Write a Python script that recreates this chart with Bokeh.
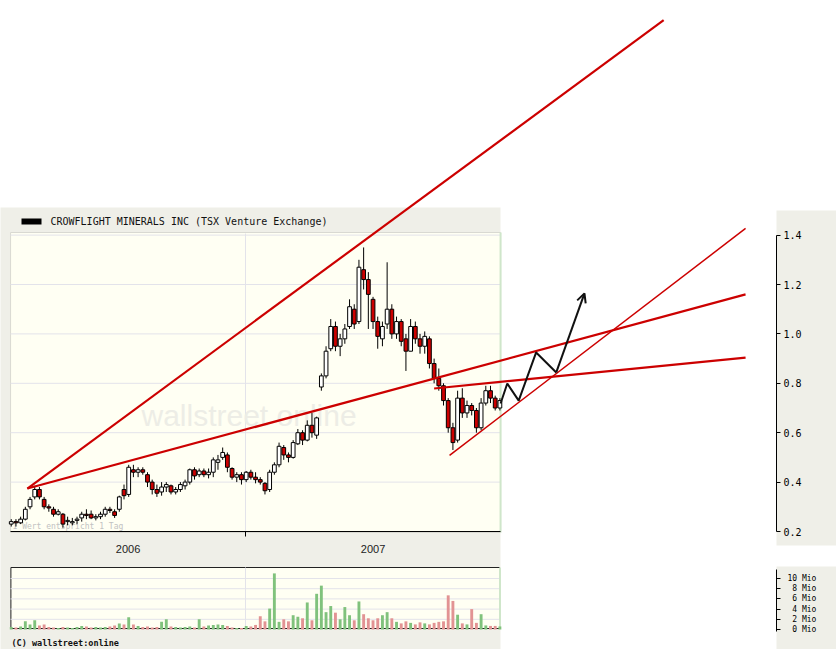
import pandas as pd
from bokeh.plotting import figure
from bokeh.models import (Range1d, LinearAxis, FixedTicker, PrintfTickFormatter,
                          ColumnDataSource, Arrow, OpenHead)
from bokeh.core.properties import value
from bokeh.embed import file_html
from bokeh.resources import INLINE

# ---------------------------------------------------------------- data
title_text = "CROWFLIGHT MINERALS INC (TSX Venture Exchange)"
note_text = "1 Wert entspricht 1 Tag"
watermark_text = "wallstreet online"
copyright_text = "(C) wallstreet:online"

first_week = "2006-01-17"          # weekly candles from here on
view_start = "2006-01-16"
view_end = "2008-01-16"
year_boundary = "2007-01-01"
year_labels = ["2006", "2007"]

open_ = [0.23, 0.24, 0.235, 0.25, 0.30, 0.34, 0.37, 0.33, 0.30, 0.29,
         0.27, 0.27, 0.24, 0.235, 0.245, 0.255, 0.27, 0.27, 0.255, 0.26,
         0.27, 0.29, 0.28, 0.29, 0.37, 0.35, 0.45, 0.44, 0.45, 0.43,
         0.40, 0.37, 0.36, 0.38, 0.385, 0.36, 0.37, 0.385, 0.40, 0.45,
         0.43, 0.445, 0.43, 0.44, 0.48, 0.50, 0.51, 0.455, 0.42, 0.43,
         0.41, 0.44, 0.42, 0.41, 0.395, 0.37, 0.44, 0.47, 0.54, 0.51,
         0.50, 0.555, 0.60, 0.57, 0.63, 0.59, 0.785, 0.83, 0.94, 1.03,
         0.95, 0.98, 1.03, 1.10, 1.05, 1.26, 1.22, 1.14, 1.05, 0.98,
         1.04, 1.10, 1.00, 1.05, 0.98, 0.93, 1.03, 0.98, 0.95, 0.98,
         0.88, 0.82, 0.79, 0.73, 0.62, 0.57, 0.74, 0.68, 0.71, 0.69,
         0.62, 0.72, 0.77, 0.74, 0.70]
high = [0.25, 0.25, 0.26, 0.30, 0.34, 0.385, 0.38, 0.34, 0.31, 0.30,
        0.29, 0.275, 0.26, 0.255, 0.26, 0.28, 0.29, 0.285, 0.27, 0.28,
        0.30, 0.30, 0.29, 0.345, 0.39, 0.47, 0.47, 0.46, 0.46, 0.44,
        0.41, 0.39, 0.40, 0.40, 0.39, 0.38, 0.40, 0.41, 0.455, 0.46,
        0.455, 0.455, 0.455, 0.50, 0.51, 0.54, 0.52, 0.46, 0.44, 0.44,
        0.445, 0.45, 0.44, 0.42, 0.40, 0.45, 0.48, 0.56, 0.55, 0.52,
        0.57, 0.615, 0.61, 0.65, 0.68, 0.665, 0.84, 0.95, 1.06, 1.05,
        1.00, 1.04, 1.14, 1.12, 1.30, 1.35, 1.25, 1.15, 1.07, 1.05,
        1.29, 1.12, 1.07, 1.06, 1.00, 1.06, 1.05, 1.00, 1.01, 0.99,
        0.90, 0.86, 0.80, 0.74, 0.64, 0.77, 0.78, 0.73, 0.72, 0.70,
        0.74, 0.79, 0.79, 0.75, 0.74]
low = [0.22, 0.22, 0.23, 0.245, 0.29, 0.33, 0.33, 0.29, 0.28, 0.26,
       0.265, 0.215, 0.225, 0.225, 0.23, 0.24, 0.25, 0.25, 0.245, 0.25,
       0.26, 0.275, 0.255, 0.28, 0.33, 0.34, 0.42, 0.42, 0.43, 0.38,
       0.35, 0.34, 0.345, 0.36, 0.35, 0.35, 0.36, 0.37, 0.39, 0.41,
       0.42, 0.42, 0.415, 0.42, 0.45, 0.49, 0.44, 0.41, 0.40, 0.39,
       0.40, 0.41, 0.395, 0.39, 0.35, 0.36, 0.43, 0.46, 0.49, 0.48,
       0.495, 0.55, 0.55, 0.565, 0.58, 0.575, 0.77, 0.82, 0.93, 0.93,
       0.91, 0.96, 1.02, 1.02, 1.04, 1.18, 1.02, 1.02, 0.94, 0.95,
       1.02, 0.98, 0.98, 0.95, 0.85, 0.93, 0.96, 0.92, 0.92, 0.86,
       0.80, 0.77, 0.71, 0.60, 0.53, 0.56, 0.66, 0.66, 0.67, 0.60,
       0.61, 0.71, 0.72, 0.69, 0.69]
close = [0.24, 0.235, 0.25, 0.29, 0.33, 0.37, 0.34, 0.30, 0.295, 0.27,
         0.28, 0.23, 0.245, 0.24, 0.25, 0.27, 0.265, 0.255, 0.26, 0.27,
         0.29, 0.285, 0.265, 0.34, 0.345, 0.46, 0.44, 0.45, 0.44, 0.40,
         0.37, 0.355, 0.38, 0.39, 0.36, 0.37, 0.39, 0.40, 0.45, 0.425,
         0.445, 0.43, 0.44, 0.49, 0.49, 0.52, 0.46, 0.42, 0.43, 0.41,
         0.44, 0.42, 0.41, 0.40, 0.365, 0.44, 0.47, 0.545, 0.51, 0.50,
         0.56, 0.60, 0.57, 0.63, 0.60, 0.66, 0.83, 0.93, 1.03, 0.95,
         0.98, 1.02, 1.11, 1.04, 1.27, 1.22, 1.16, 1.05, 0.99, 1.03,
         1.10, 1.00, 1.05, 0.97, 0.93, 1.03, 0.98, 0.95, 0.99, 0.88,
         0.82, 0.79, 0.73, 0.62, 0.56, 0.74, 0.68, 0.71, 0.69, 0.62,
         0.72, 0.77, 0.74, 0.70, 0.73]
volume_mio = [0.5, 0.4, 0.6, 1.6, 1.0, 1.8, 0.8, 1.0, 0.5, 0.4,
              0.3, 0.5, 0.4, 0.3, 0.5, 0.7, 0.6, 0.4, 0.5, 0.4,
              0.5, 0.6, 0.8, 1.2, 1.0, 2.4, 1.0, 0.7, 0.5, 0.6,
              0.4, 0.5, 1.5, 2.0, 0.6, 0.5, 0.4, 0.5, 0.6, 0.4,
              2.0, 0.6, 0.8, 0.9, 1.0, 0.9, 0.7, 0.4, 0.3, 0.3,
              0.7, 0.6, 0.9, 2.6, 1.6, 4.1, 11.0, 1.5, 2.0, 1.6,
              2.8, 2.5, 2.2, 5.3, 1.8, 7.0, 8.6, 3.4, 4.6, 3.3,
              2.0, 4.4, 2.8, 1.8, 5.5, 3.0, 2.2, 1.8, 2.2, 2.8,
              3.4, 2.2, 1.5, 1.2, 1.6, 1.3, 1.0, 1.4, 1.2, 1.0,
              1.3, 1.5, 1.6, 6.7, 5.6, 2.9, 1.2, 1.0, 4.0, 1.3,
              3.0, 0.8, 0.7, 0.7, 0.6]

price_ticks = [0.2, 0.4, 0.6, 0.8, 1.0, 1.2, 1.4]
volume_ticks = [0, 2, 4, 6, 8, 10]
volume_tick_labels = ["\u20070 Mio", "\u20072 Mio", "\u20074 Mio",
                      "\u20076 Mio", "\u20078 Mio", "10 Mio"]

# hand-drawn trend lines (date, price)
trend_start_date = ["2006-02-10", "2006-02-10", "2007-10-09", "2007-11-01"]
trend_start_price = [0.374, 0.374, 0.779, 0.508]
trend_end_date = ["2008-09-15", "2009-01-15", "2009-01-15", "2009-01-15"]
trend_end_price = [2.27, 1.16, 0.904, 1.427]

# hand-drawn forecast path (date, price)
path_date = ["2008-01-16", "2008-01-26", "2008-02-12", "2008-03-09",
             "2008-04-08", "2008-05-20"]
path_price = [0.718, 0.799, 0.730, 0.925, 0.844, 1.164]

# ---------------------------------------------------------------- layout
EPOCH = pd.Timestamp("2006-01-01")
PX_PER_DAY = 245 / 365
W, H = 836, 649


def day(d):
    return (pd.Timestamp(d) - EPOCH).days


def dx(px):          # pixel column -> day number
    return px / PX_PER_DAY


def py(px):          # pixel row -> price
    return 0.2 + (531 - px) / 247


def vy(px):          # pixel row -> volume (Mio)
    return (629 - px) / 5.1


GRAY = "#efefe8"
CREAM = "#fffff3"
GRID = "#e3e3ea"
RED = "#cc0000"
MONO = "DejaVu Sans Mono"

p = figure(width=W, height=H,
           x_range=Range1d(dx(0), dx(W)), y_range=Range1d(py(H), py(0)),
           output_backend="svg", toolbar_location=None, min_border=0,
           x_axis_type=None, y_axis_type=None)
p.extra_y_ranges = {"vol": Range1d(vy(H), vy(0))}
p.outline_line_color = None
p.background_fill_color = "white"
p.border_fill_color = "white"

vs, ve, yb = day(view_start), day(view_end), day(year_boundary)

# panels
p.quad(left=[dx(-2), dx(776), dx(776)], right=[dx(500), dx(840), dx(840)],
       bottom=[py(652), py(545), py(652)], top=[py(207), py(210), py(566)],
       fill_color=GRAY, line_color=None, level="image")
p.quad(left=[vs], right=[ve], bottom=[py(532)], top=[py(232)],
       fill_color=CREAM, line_color="#d9d9d2", line_width=1, level="image")
p.quad(left=[vs + 0.5], right=[dx(499)], bottom=[vy(628)], top=[vy(567)],
       fill_color=CREAM, line_color="#222222", line_width=1, level="image",
       y_range_name="vol")

# grid lines
gt = price_ticks[1:]
p.segment(x0=[vs] * len(gt), y0=gt, x1=[ve] * len(gt), y1=gt,
          line_color=GRID, line_width=1, level="underlay")
p.segment(x0=[yb], y0=[0.2], x1=[yb], y1=[py(233)],
          line_color=GRID, line_width=1, level="underlay")
vt = volume_ticks[1:]
p.segment(x0=[vs] * len(vt), y0=vt, x1=[dx(499)] * len(vt), y1=vt,
          line_color=GRID, line_width=1, level="underlay", y_range_name="vol")
p.segment(x0=[yb], y0=[vy(628)], x1=[yb], y1=[vy(567)],
          line_color=GRID, line_width=1, level="underlay", y_range_name="vol")
p.segment(x0=[ve], y0=[py(532)], x1=[ve], y1=[py(232)],
          line_color="#cfe6ca", line_width=2, level="underlay")
p.segment(x0=[dx(499.5)], y0=[vy(628)], x1=[dx(499.5)], y1=[vy(567)],
          line_color="#cfe6ca", line_width=2, level="underlay", y_range_name="vol")

# watermark and notes
p.text(x=[dx(141)], y=[py(415)], text=[watermark_text],
       text_font=value("Liberation Sans"), text_font_size="30px",
       text_color="#ededE6", text_baseline="alphabetic", level="underlay")
p.text(x=[dx(12)], y=[py(526)], text=[note_text], text_font=value(MONO),
       text_font_size="8px", text_color="#c2c2c2", text_baseline="middle",
       level="underlay")

# title
p.quad(left=[dx(21)], right=[dx(41)], bottom=[py(224)], top=[py(218)],
       fill_color="black", line_color=None)
p.text(x=[dx(50)], y=[py(221)], text=[title_text], text_font=value(MONO),
       text_font_size="10px", text_color="#111111", text_baseline="middle")

# copyright
p.text(x=[dx(11)], y=[py(642)], text=[copyright_text], text_font=value(MONO),
       text_font_size="8.5px", text_font_style="bold", text_color="#111111",
       text_baseline="middle")

# candles + volume
dates = pd.date_range(first_week, periods=len(close), freq="7D")
xs = [(d - EPOCH).days for d in dates]
up = [c >= o for o, c in zip(open_, close)]
src = ColumnDataSource(dict(
    x=xs, open=open_, high=high, low=low, close=close,
    top=[max(o, c) for o, c in zip(open_, close)],
    bottom=[min(o, c) for o, c in zip(open_, close)],
    fill=["white" if u else RED for u in up],
    vol=volume_mio,
    vcolor=["#80c27c" if u else "#e29393" for u in up],
))
p.vbar(x="x", width=4.3, top="vol", bottom=0, fill_color="vcolor",
       line_color=None, source=src, y_range_name="vol")
p.segment(x0="x", y0="low", x1="x", y1="high", line_color="black",
          line_width=1, source=src)
p.vbar(x="x", width=5.6, top="top", bottom="bottom", fill_color="fill",
       line_color="black", line_width=1, source=src)

# trend lines
tsrc = ColumnDataSource(dict(
    x0=[day(d) for d in trend_start_date], y0=trend_start_price,
    x1=[day(d) for d in trend_end_date], y1=trend_end_price,
    w=[2.2, 2.2, 2.2, 1.5],
))
p.segment(x0="x0", y0="y0", x1="x1", y1="y1", line_color=RED,
          line_width="w", source=tsrc)

# forecast path
px_ = [day(d) for d in path_date]
p.line(x=px_[:-1], y=path_price[:-1], line_color="#111111", line_width=2)
p.add_layout(Arrow(end=OpenHead(size=9, line_color="#111111", line_width=2),
                   x_start=px_[-2], y_start=path_price[-2],
                   x_end=px_[-1], y_end=path_price[-1],
                   line_color="#111111", line_width=2))

# axes (drawn at fixed locations inside the canvas)
yax = LinearAxis(fixed_location=dx(776), bounds=(0.2, 1.4),
                 ticker=FixedTicker(ticks=price_ticks),
                 formatter=PrintfTickFormatter(format="%.1f"))
vax = LinearAxis(y_range_name="vol", fixed_location=dx(776),
                 bounds=(vy(631), vy(569)),
                 ticker=FixedTicker(ticks=volume_ticks),
                 major_label_overrides=dict(zip(volume_ticks, volume_tick_labels)))
for ax, fs, so in ((yax, "10px", 3), (vax, "8px", 7)):
    ax.major_tick_out = 4
    ax.major_tick_in = 0
    ax.minor_tick_out = 0
    ax.minor_tick_in = 0
    ax.axis_line_color = "black"
    ax.major_tick_line_color = "black"
    ax.major_label_standoff = so
    ax.major_label_text_font = MONO
    ax.major_label_text_font_size = fs
    ax.major_label_text_color = "black"
    p.add_layout(ax, "right")

label_pos = [(vs + yb) // 2, (yb + ve) // 2]
xax = LinearAxis(fixed_location=0.2, bounds=(vs, ve),
                 ticker=FixedTicker(ticks=label_pos, minor_ticks=[yb]),
                 major_label_overrides=dict(zip(label_pos, year_labels)))
xax.major_tick_out = 0
xax.major_tick_in = 0
xax.minor_tick_out = 5
xax.minor_tick_in = 0
xax.minor_tick_line_color = "black"
xax.axis_line_color = "black"
xax.major_label_standoff = 8
xax.major_label_text_font = "Liberation Sans"
xax.major_label_text_font_size = "11px"
xax.major_label_text_color = "#222222"
p.add_layout(xax, "below")

open("out.html", "w").write(file_html(p, INLINE))
